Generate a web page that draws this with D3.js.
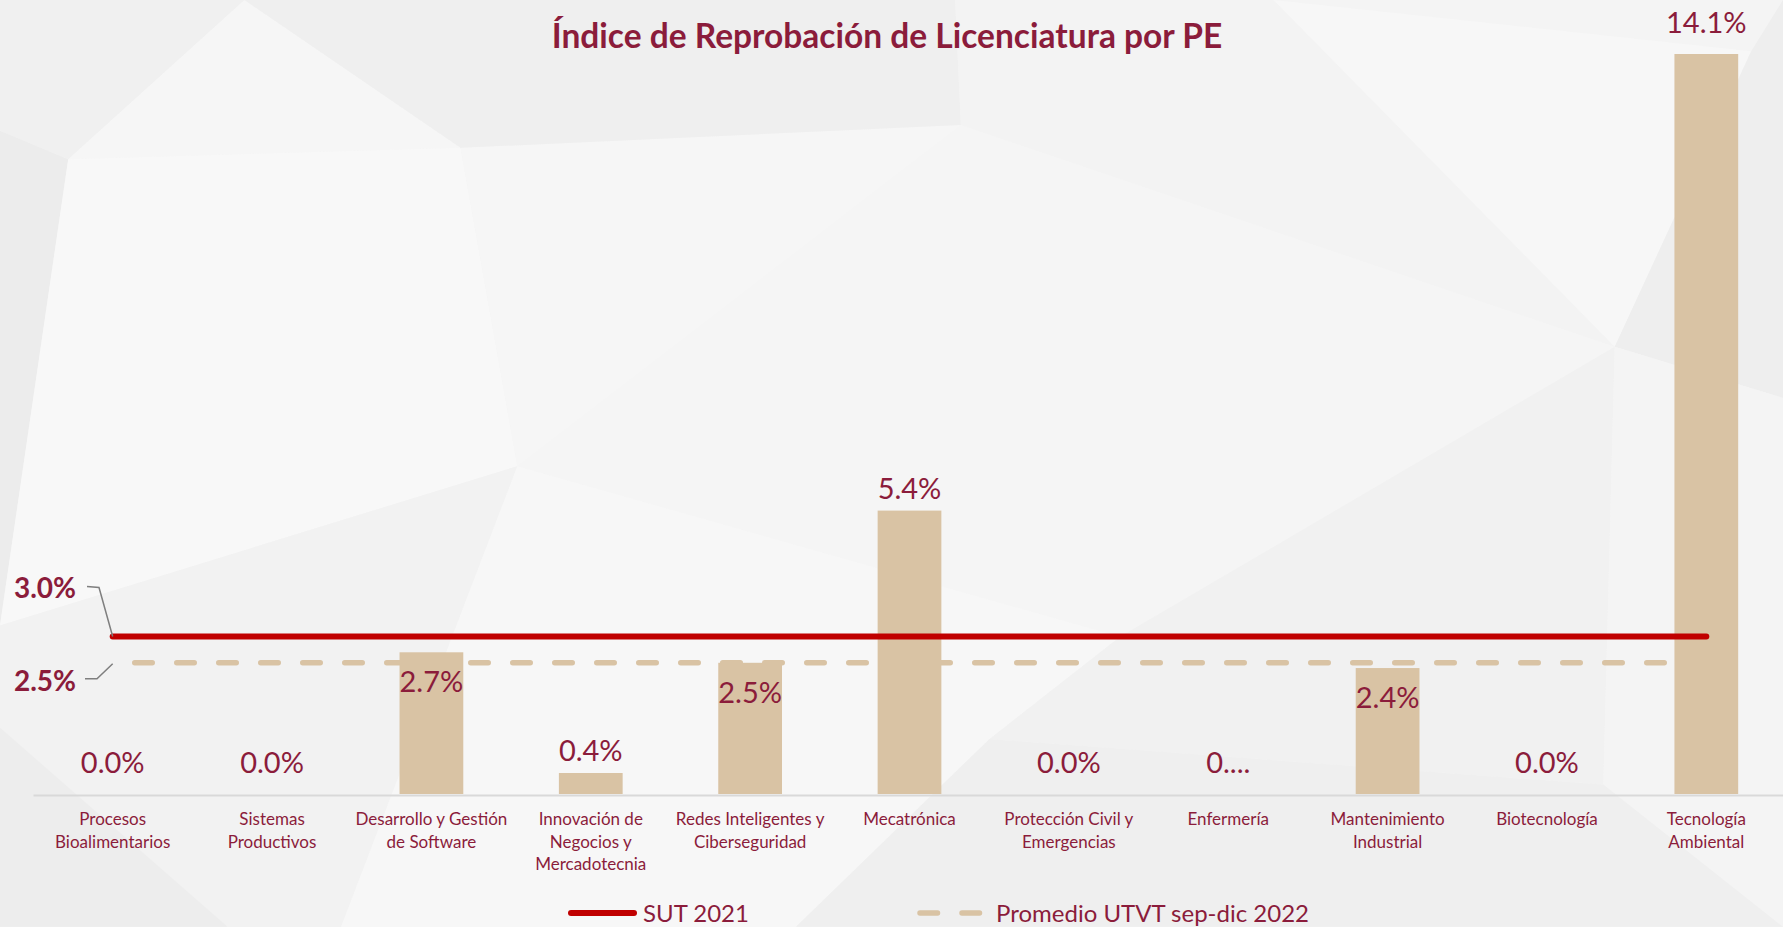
<!DOCTYPE html>
<html>
<head>
<meta charset="utf-8">
<script src="https://cdnjs.cloudflare.com/ajax/libs/d3/7.8.5/d3.min.js"></script>
<style>
    body { margin: 0; background: #f4f4f4; overflow: hidden; }
    svg { display: block; font-family: Lato, "Open Sans", sans-serif; }
</style>
</head>
<body>
<div id="chart"></div>
<script>
// Chart data
var categories = ["Procesos Bioalimentarios", "Sistemas Productivos", "Desarrollo y Gestión de Software",
    "Innovación de Negocios y Mercadotecnia", "Redes Inteligentes y Ciberseguridad", "Mecatrónica",
    "Protección Civil y Emergencias", "Enfermería", "Mantenimiento Industrial", "Biotecnología",
    "Tecnología Ambiental"];
var categoryLines = [["Procesos", "Bioalimentarios"], ["Sistemas", "Productivos"],
    ["Desarrollo y Gestión", "de Software"], ["Innovación de", "Negocios y", "Mercadotecnia"],
    ["Redes Inteligentes y", "Ciberseguridad"], ["Mecatrónica"], ["Protección Civil y", "Emergencias"],
    ["Enfermería"], ["Mantenimiento", "Industrial"], ["Biotecnología"], ["Tecnología", "Ambiental"]];
var values = [0, 0, 2.7, 0.4, 2.5, 5.4, 0, 0, 2.4, 0, 14.1];
var valueLabels = ["0.0%", "0.0%", "2.7%", "0.4%", "2.5%", "5.4%", "0.0%", "0....", "2.4%", "0.0%", "14.1%"];
var sutValue = 3.0;
var promedioValue = 2.5;
var legendNames = ["SUT 2021", "Promedio UTVT sep-dic 2022"];

// Size
var svgWidth = 1783;
var svgHeight = 927;

var maroon = "#8b1c3b";
var tan = "#d9c3a4";
var red = "#c00000";

var svg = d3.select("#chart")
    .append("svg")
    .attr("width", svgWidth)
    .attr("height", svgHeight);

// low-poly background (display coords, scaled to full size)
var k = svgWidth / 1568;
var bgShapes = [
    { fill: "#f4f4f4", pts: [[0, 0], [1568, 0], [1568, 815], [0, 815]] },
    { fill: "#f0f0f0", pts: [[0, 0], [215, 0], [60, 140], [0, 115]] },
    { fill: "#f6f6f6", pts: [[215, 0], [405, 130], [60, 140]] },
    { fill: "#ececec", pts: [[0, 115], [60, 140], [0, 550]] },
    { fill: "#f8f8f8", pts: [[60, 140], [405, 130], [455, 410], [0, 550]] },
    { fill: "#f6f6f6", pts: [[405, 130], [845, 110], [455, 410]] },
    { fill: "#efefef", pts: [[215, 0], [840, 0], [845, 110], [405, 130]] },
    { fill: "#f3f3f3", pts: [[840, 0], [1120, 0], [1420, 305], [845, 110]] },
    { fill: "#f7f7f7", pts: [[1120, 0], [1540, 45], [1420, 305]] },
    { fill: "#eeeeee", pts: [[1540, 45], [1568, 0], [1568, 350], [1420, 305]] },
    { fill: "#f5f5f5", pts: [[845, 110], [1420, 305], [985, 560], [455, 410]] },
    { fill: "#f2f2f2", pts: [[0, 550], [455, 410], [300, 815], [0, 815]] },
    { fill: "#f7f7f7", pts: [[455, 410], [985, 560], [870, 650], [700, 815], [300, 815]] },
    { fill: "#f1f1f1", pts: [[985, 560], [1420, 305], [1410, 690], [870, 650]] },
    { fill: "#f4f4f4", pts: [[1420, 305], [1568, 350], [1568, 815], [1410, 690]] },
    { fill: "#efefef", pts: [[870, 650], [1410, 690], [1568, 815], [700, 815]] },
    { fill: "#ededed", pts: [[0, 640], [200, 815], [0, 815]] }
];
svg.append("g").selectAll("polygon")
    .data(bgShapes)
    .enter()
    .append("polygon")
    .attr("points", d => d.pts.map(p => [p[0] * k, p[1] * k].join(",")).join(" "))
    .attr("fill", d => d.fill);

// scales
var x = d3.scaleBand()
    .domain(categories)
    .range([33, 1786])
    .paddingInner(0.6)
    .paddingOuter(0.3);

var y = d3.scaleLinear()
    .domain([0, 14.1])
    .range([794, 54]);

var cx = d => x(d) + x.bandwidth() / 2;
var firstX = cx(categories[0]);
var lastX = cx(categories[categories.length - 1]);
var maxValue = d3.max(values);

// title
svg.append("text")
    .attr("x", 887)
    .attr("y", 48)
    .attr("text-anchor", "middle")
    .attr("font-size", 33.5)
    .attr("font-weight", 700)
    .attr("fill", maroon)
    .text("Índice de Reprobación de Licenciatura por PE");

// dashed average line (under the bars)
svg.append("line")
    .attr("x1", firstX)
    .attr("x2", lastX)
    .attr("y1", y(promedioValue))
    .attr("y2", y(promedioValue))
    .attr("stroke", tan)
    .attr("stroke-width", 5.5)
    .attr("stroke-linecap", "round")
    .attr("stroke-dasharray", "17.5,24.5")
    .attr("stroke-dashoffset", 42 - (134.75 - firstX));

// bars
svg.append("g").selectAll("rect")
    .data(values)
    .enter()
    .append("rect")
    .attr("x", (d, i) => x(categories[i]))
    .attr("width", x.bandwidth())
    .attr("y", d => y(d))
    .attr("height", d => y(0) - y(d))
    .attr("fill", tan);

// x axis line
var gx = svg.append("g")
    .attr("transform", `translate(0, ${y(0) + 1})`)
    .call(d3.axisBottom(x).tickSize(0).tickSizeOuter(0).tickFormat(""));
gx.select(".domain").attr("stroke", "#d9d9d9").attr("stroke-width", 2);

// category labels
var catText = svg.append("g").selectAll("text")
    .data(categories)
    .enter()
    .append("text")
    .attr("text-anchor", "middle")
    .attr("font-size", 17)
    .attr("fill", maroon);
catText.each(function (d, i) {
    var t = d3.select(this);
    categoryLines[i].forEach(function (line, j) {
        t.append("tspan")
            .attr("x", cx(d))
            .attr("y", 825 + j * 22.7)
            .text(line);
    });
});

// SUT line (over the bars)
svg.append("line")
    .attr("x1", firstX)
    .attr("x2", lastX)
    .attr("y1", y(sutValue))
    .attr("y2", y(sutValue))
    .attr("stroke", red)
    .attr("stroke-width", 6)
    .attr("stroke-linecap", "round");

// value labels
svg.append("g").selectAll("text")
    .data(values)
    .enter()
    .append("text")
    .attr("x", (d, i) => cx(categories[i]))
    .attr("y", function (d) {
        // labels that would hit the reference lines sit inside the bar
        if (d >= 2 && d <= sutValue + 0.3) return y(d) + 40;
        if (d === 0 || d === maxValue) return y(d) - 21;
        return y(d) - 12;
    })
    .attr("text-anchor", "middle")
    .attr("font-size", 29)
    .attr("fill", maroon)
    .text((d, i) => valueLabels[i]);

// reference line callouts
var fmt = d3.format(".1%");
var callouts = [
    { v: sutValue, ty: y(sutValue) - 39, pts: [[87, y(sutValue) - 50], [99, y(sutValue) - 49], [firstX, y(sutValue)]] },
    { v: promedioValue, ty: y(promedioValue) + 28, pts: [[85, y(promedioValue) + 16], [97, y(promedioValue) + 16], [firstX, y(promedioValue) + 1]] }
];
callouts.forEach(function (c) {
    svg.append("polyline")
        .attr("points", c.pts.map(p => p.join(",")).join(" "))
        .attr("fill", "none")
        .attr("stroke", "#7f7f7f")
        .attr("stroke-width", 1.5);
    svg.append("text")
        .attr("x", 45)
        .attr("y", c.ty)
        .attr("text-anchor", "middle")
        .attr("font-size", 28)
        .attr("font-weight", 700)
        .attr("fill", maroon)
        .text(fmt(c.v / 100));
});

// legend
var legend = svg.append("g");
legend.append("line")
    .attr("x1", 571).attr("x2", 634)
    .attr("y1", 913).attr("y2", 913)
    .attr("stroke", red)
    .attr("stroke-width", 6)
    .attr("stroke-linecap", "round");
legend.append("text")
    .attr("x", 643).attr("y", 922)
    .attr("font-size", 24)
    .attr("fill", maroon)
    .text(legendNames[0]);
legend.append("line")
    .attr("x1", 920).attr("x2", 982)
    .attr("y1", 913).attr("y2", 913)
    .attr("stroke", tan)
    .attr("stroke-width", 5.5)
    .attr("stroke-linecap", "round")
    .attr("stroke-dasharray", "17.5,24.5");
legend.append("text")
    .attr("x", 996).attr("y", 922)
    .attr("font-size", 24)
    .attr("fill", maroon)
    .text(legendNames[1]);
</script>
</body>
</html>
